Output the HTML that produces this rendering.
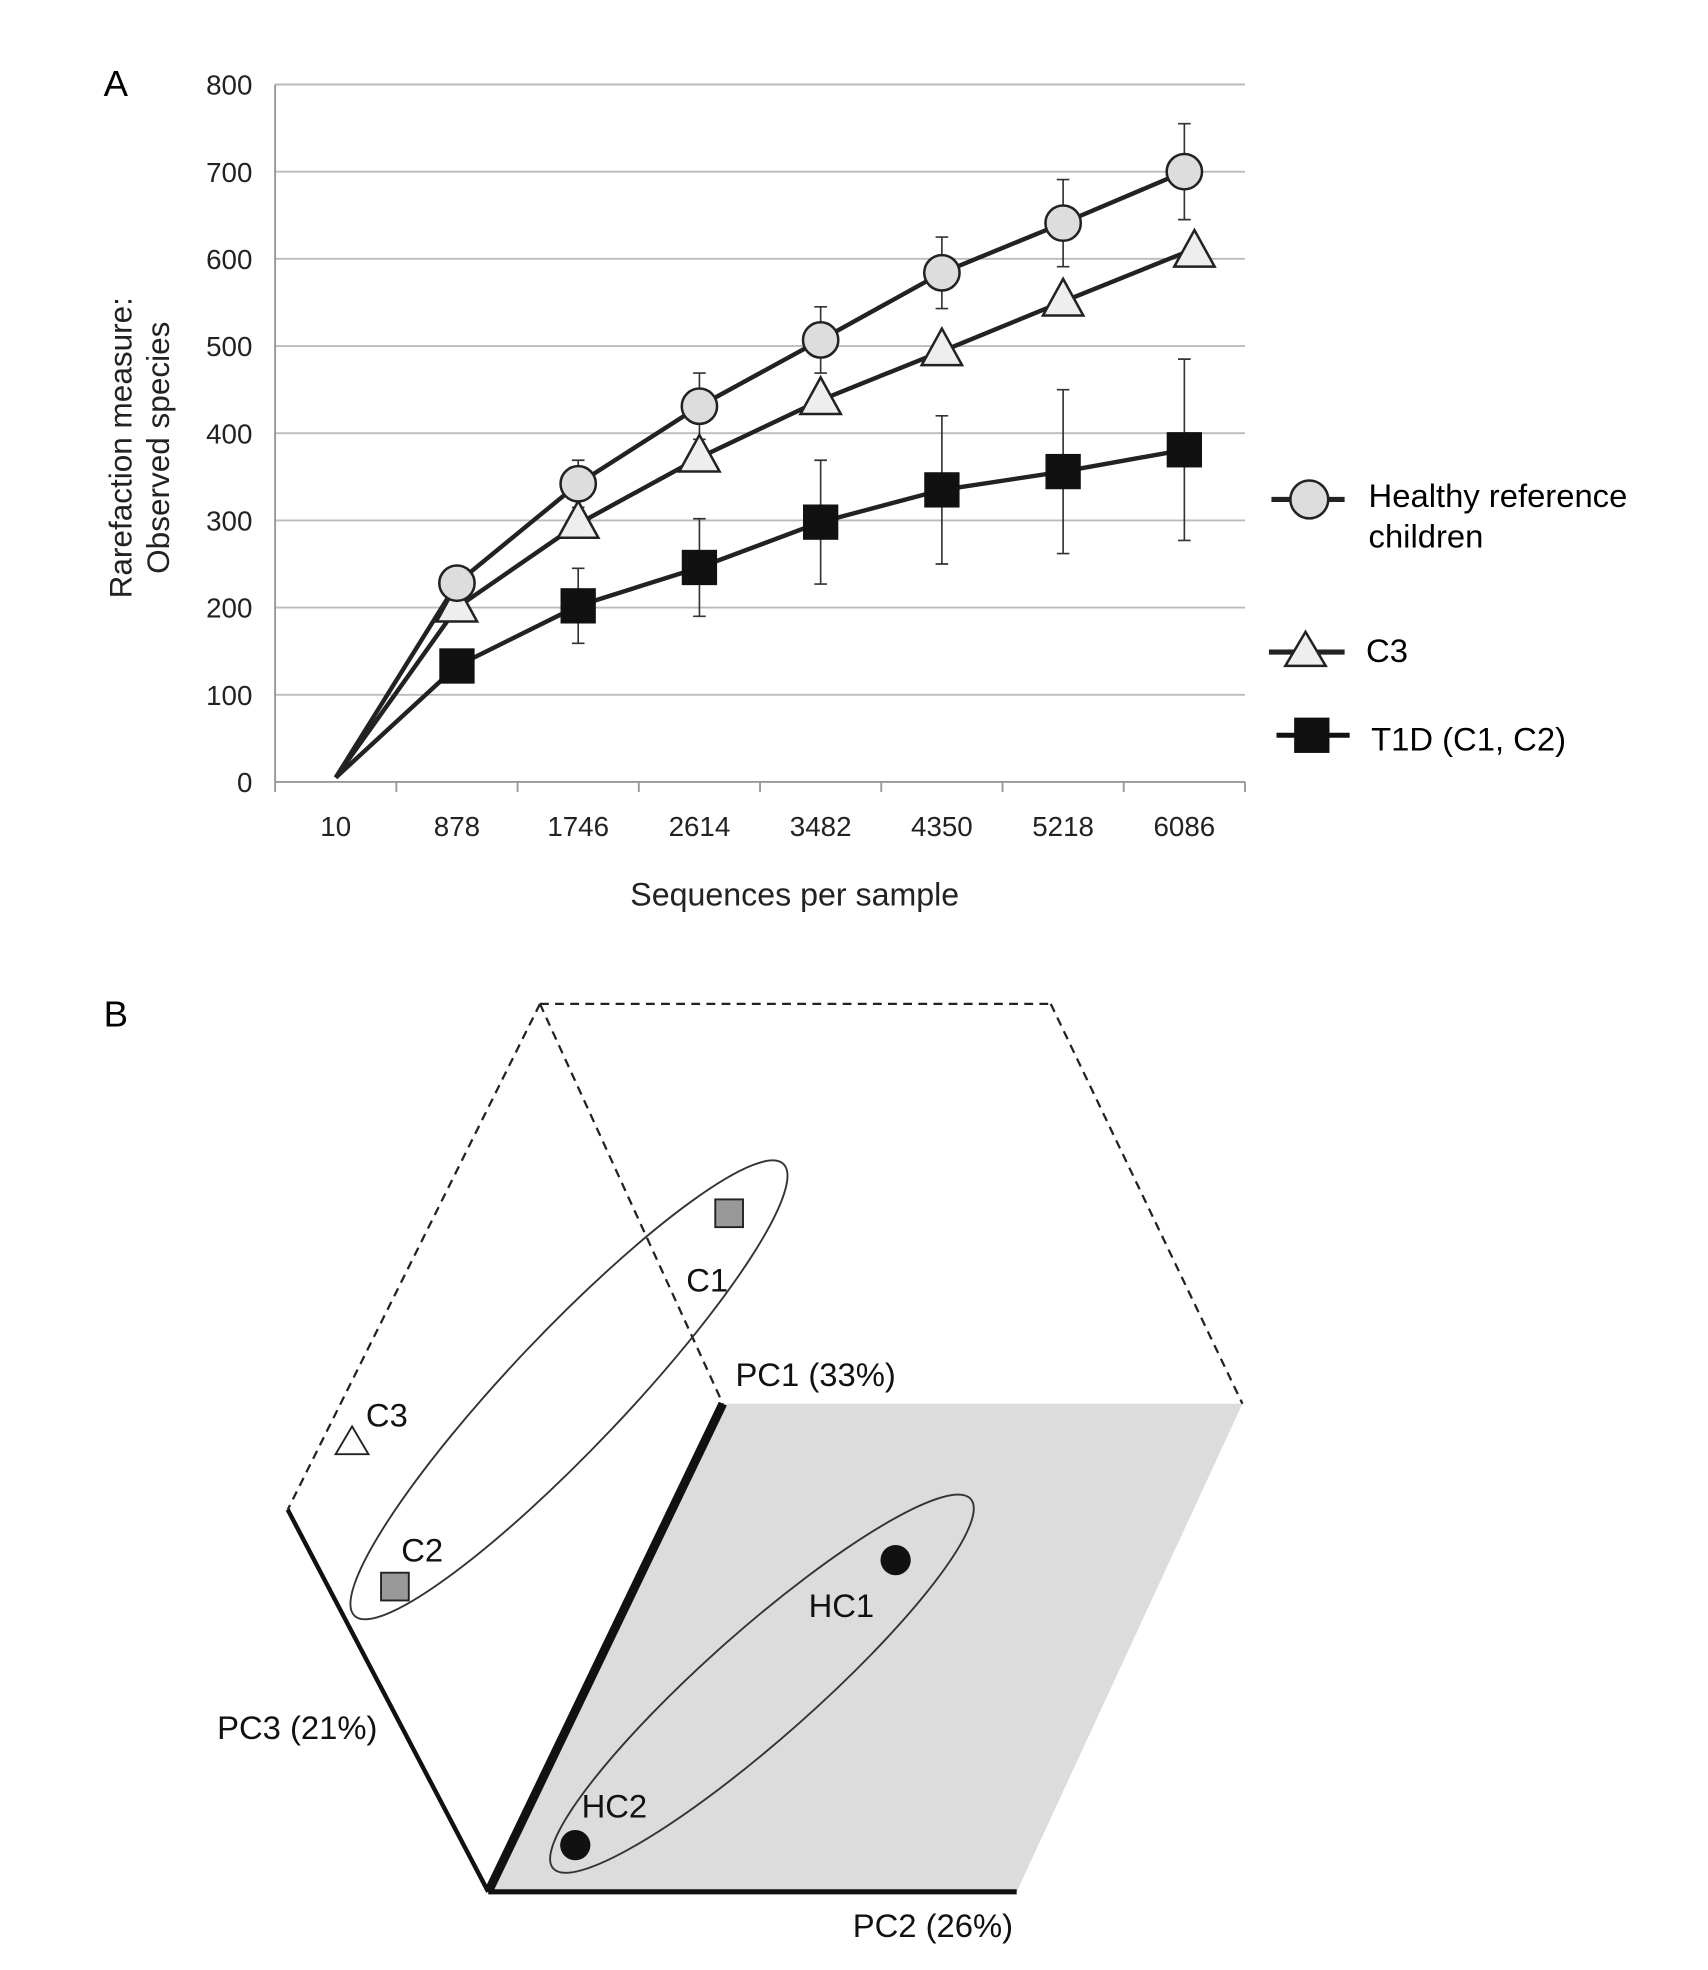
<!DOCTYPE html>
<html><head><meta charset="utf-8"><style>
html,body{margin:0;padding:0;background:#fff}
svg{display:block;font-family:"Liberation Sans",Arial,sans-serif}
</style></head><body>
<svg id="fig" width="1708" height="1970" viewBox="0 0 1354 1562" xmlns="http://www.w3.org/2000/svg">
<rect width="1354" height="1562" fill="#fff"/>
<text x="82" y="76" font-size="29">A</text>
<g id="chartA"></g>
<g id="legend">
 <g>
  <line x1="1008" y1="396" x2="1066" y2="396" stroke="#222" stroke-width="4"/>
  <circle cx="1038" cy="396" r="15" fill="#ddd" stroke="#222" stroke-width="2"/>
  <text x="1085" y="402" font-size="26">Healthy reference</text>
  <text x="1085" y="434" font-size="26">children</text>
 </g>
 <g>
  <line x1="1006" y1="517" x2="1066" y2="517" stroke="#222" stroke-width="4"/>
  <polygon points="1035,501 1019,528 1051,528" fill="#eee" stroke="#222" stroke-width="2"/>
  <text x="1083" y="525" font-size="26">C3</text>
 </g>
 <g>
  <line x1="1012" y1="583" x2="1070" y2="583" stroke="#111" stroke-width="4"/>
  <rect x="1026" y="569" width="28" height="28" fill="#111"/>
  <text x="1087" y="595" font-size="26">T1D (C1, C2)</text>
 </g>
</g>
<text x="82" y="814" font-size="29">B</text>
<g>
 <polygon points="573,1113 985,1113 806,1500 387,1500" fill="#dcdcdc"/>
 <g stroke="#222" stroke-width="1.8" stroke-dasharray="7,5" fill="none">
  <line x1="428" y1="796" x2="833" y2="796"/>
  <line x1="428" y1="796" x2="228" y2="1197"/>
  <line x1="428" y1="796" x2="573" y2="1113"/>
  <line x1="833" y1="796" x2="985" y2="1113"/>
 </g>
 <line x1="228" y1="1197" x2="387" y2="1500" stroke="#111" stroke-width="3.5"/>
 <line x1="573" y1="1113" x2="387" y2="1500" stroke="#111" stroke-width="7"/>
 <line x1="387" y1="1500" x2="806" y2="1500" stroke="#111" stroke-width="4"/>
 <ellipse cx="451" cy="1102" rx="247" ry="46" transform="rotate(-46.5 451 1102)" fill="none" stroke="#333" stroke-width="1.5"/>
 <ellipse cx="604" cy="1335" rx="221" ry="43" transform="rotate(-41.5 604 1335)" fill="none" stroke="#333" stroke-width="1.5"/>
 <rect x="567" y="951" width="22" height="22" fill="#999" stroke="#222" stroke-width="1.5"/>
 <rect x="302" y="1247" width="22" height="22" fill="#999" stroke="#222" stroke-width="1.5"/>
 <polygon points="279,1131 266,1153 292,1153" fill="#fff" stroke="#222" stroke-width="1.5"/>
 <circle cx="710" cy="1237" r="12" fill="#111"/>
 <circle cx="456" cy="1463" r="12" fill="#111"/>
 <g font-size="26" fill="#111">
  <text x="544" y="1024">C1</text>
  <text x="290" y="1131">C3</text>
  <text x="318" y="1238">C2</text>
  <text x="641" y="1282">HC1</text>
  <text x="461" y="1441">HC2</text>
  <text x="583" y="1099">PC1 (33%)</text>
  <text x="172" y="1379">PC3 (21%)</text>
  <text x="676" y="1536">PC2 (26%)</text>
 </g>
</g>
</svg>
<script>
const categories = ["10","878","1746","2614","3482","4350","5218","6086"];
const healthy = [5,228,342,431,507,584,641,700];
const healthyErr = [0,0,27,38,38,41,50,55];
const c3 = [5,200,296,372,438,494,551,607];
const t1d = [5,133,202,246,298,335,356,381];
const t1dErr = [0,0,43,56,71,85,94,104];
const yTicks = [0,100,200,300,400,500,600,700,800];

const NS="http://www.w3.org/2000/svg";
const g=document.getElementById('chartA');
const X0=218,X1=987,Y0=620,Y1=67;
const bw=(X1-X0)/categories.length;
function xs(i){return X0+(i+0.5)*bw;}
function ys(v){return Y0-(v/800)*(Y0-Y1);}
function mk(tag,attrs,parent){const e=document.createElementNS(NS,tag);for(const k in attrs)e.setAttribute(k,attrs[k]);(parent||g).appendChild(e);return e;}

yTicks.forEach(v=>{
  const l=mk('line',{x1:X0,x2:X1,y1:ys(v),y2:ys(v),stroke:v===0?'#999':'#bbb','stroke-width':1.5});
  
  
  const t=mk('text',{x:200,y:ys(v)+8,'font-size':22,'text-anchor':'end',fill:'#222'});
  t.textContent=v;
  
  
});
const ax=mk('line',{x1:X0,x2:X0,y1:Y1,y2:Y0,stroke:'#999','stroke-width':1.5});


for(let i=0;i<=categories.length;i++){
  const tk=mk('line',{x1:X0+i*bw,x2:X0+i*bw,y1:Y0,y2:Y0+8,stroke:'#999','stroke-width':1.5});
  
  
}
categories.forEach((c,i)=>{
  const t=mk('text',{x:xs(i),y:663,'font-size':22,'text-anchor':'middle',fill:'#222'});
  t.textContent=c;
  
  
});
const xt=mk('text',{x:630,y:718,'font-size':25.5,'text-anchor':'middle',fill:'#222'});
xt.textContent='Sequences per sample';


const yt=mk('text',{transform:'translate(104,355) rotate(-90)','font-size':25,'text-anchor':'middle',fill:'#222'});


const ts1=mk('tspan',{x:0,y:0},yt);ts1.textContent='Rarefaction measure:';
const ts2=mk('tspan',{x:0,y:30},yt);ts2.textContent='Observed species';

function errs(vals,err,name){
  vals.forEach((v,i)=>{ if(!err[i])return;
    const x=xs(i);
    const e=mk('path',{d:`M${x},${ys(v+err[i])}V${ys(v-err[i])}M${x-5},${ys(v+err[i])}h10M${x-5},${ys(v-err[i])}h10`,stroke:'#333','stroke-width':1.3,fill:'none'});
    
    
  });
}
function line(vals,name){
  const p=mk('polyline',{points:vals.map((v,i)=>xs(i)+','+ys(v)).join(' '),fill:'none',stroke:'#222','stroke-width':3.5});
  
  
}
errs(t1d,t1dErr,'t1d-error-bar');
errs(healthy,healthyErr,'healthy-error-bar');
line(t1d,'t1d-line');
line(c3,'c3-line');
line(healthy,'healthy-line');
t1d.forEach((v,i)=>{ if(i===0)return;
  const r=mk('rect',{x:xs(i)-14,y:ys(v)-14,width:28,height:28,fill:'#111'});
  
  
});
c3.forEach((v,i)=>{ if(i===0)return;
  const x=xs(i)+(i===7?8:0),y=ys(v);
  const t=mk('polygon',{points:`${x},${y-18} ${x-16},${y+11} ${x+16},${y+11}`,fill:'#eee',stroke:'#222','stroke-width':2});
  
  
});
healthy.forEach((v,i)=>{ if(i===0)return;
  const c=mk('circle',{cx:xs(i),cy:ys(v),r:14,fill:'#ddd',stroke:'#222','stroke-width':2});
  
  
});
</script>
</body></html>
